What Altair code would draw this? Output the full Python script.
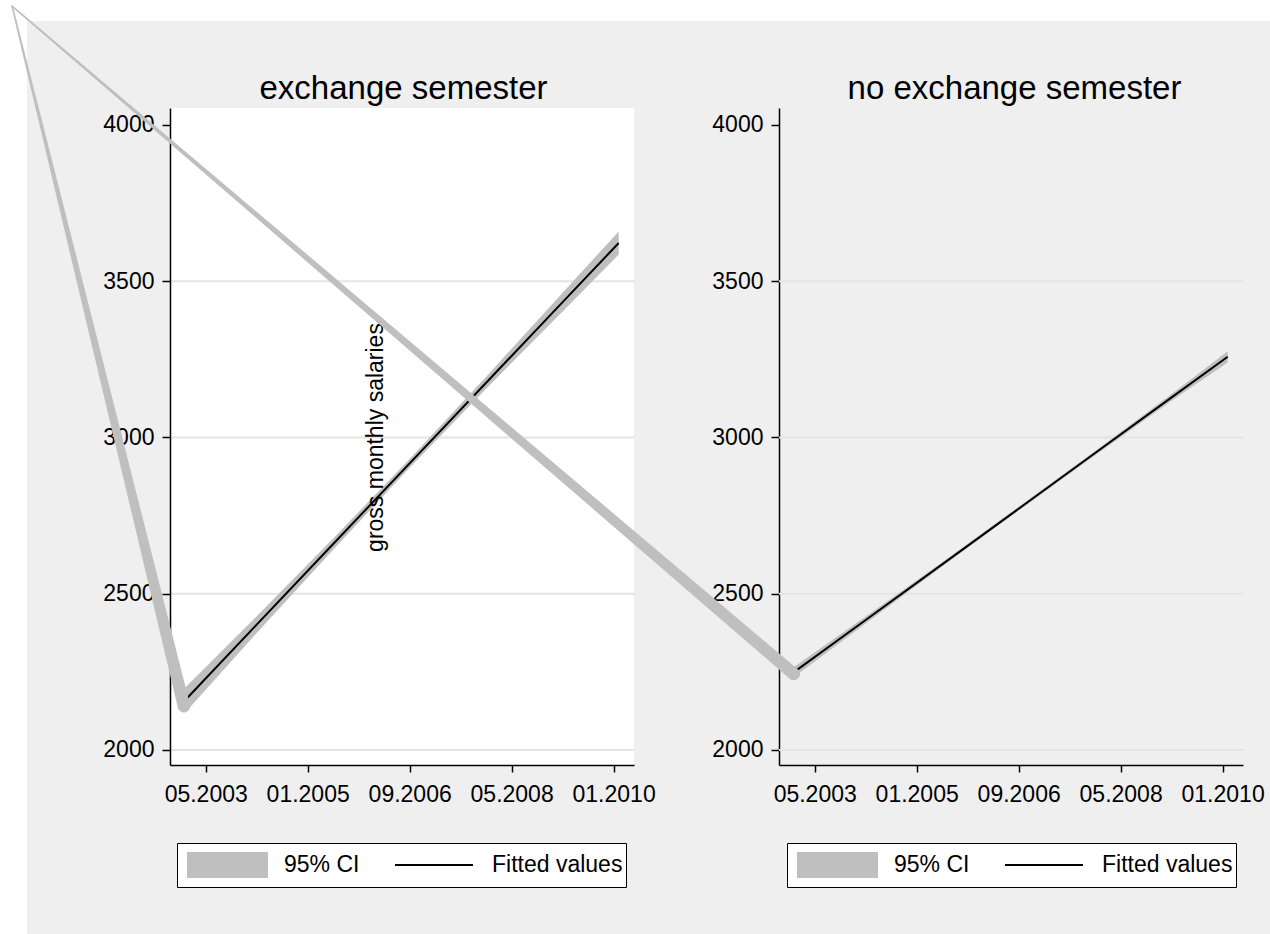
import altair as alt
import pandas as pd

# Stata monthly dates: months counted from 01.1960
months = [516, 530, 545, 560, 575, 590, 601]

# exchange semester: fitted gross salary and its 95% band
fit_exchange = [2160, 2401, 2659, 2917, 3175, 3433, 3622]
lo_exchange = [2120, 2374, 2641, 2903, 3156, 3403, 3585]
hi_exchange = [2200, 2428, 2677, 2931, 3194, 3463, 3659]

# no exchange semester
fit_no_exchange = [2250, 2416, 2594, 2772, 2950, 3128, 3258]
lo_no_exchange = [2234, 2405, 2587, 2766, 2943, 3117, 3240]
hi_no_exchange = [2266, 2427, 2601, 2778, 2957, 3139, 3276]

tick_months = [520, 540, 560, 580, 600]
salary_ticks = [2000, 2500, 3000, 3500, 4000]
grid_salaries = [2000, 2500, 3000, 3500]

legend_items = ["95% CI", "Fitted values"]
panel_titles = ["exchange semester", "no exchange semester"]
y_title = "gross monthly salaries"

# stray edges of the band polygon (right panel's data units)
stray_month = [362.6, 396.3, 362.6, 515.9]
stray_salary = [4380, 2140, 4380, 2243]
stray_edge = ["a", "a", "b", "b"]

FONT = "Liberation Sans"
BAND = "#bfbfbf"
BG = "#efefef"
W, H = 464, 657

month_label = ("(datum.value % 12 + 1 < 10 ? '0' : '') + (datum.value % 12 + 1)"
               " + '.' + (floor(datum.value / 12) + 1960)")

x_scale = alt.Scale(domain=[513, 604], nice=False, zero=False)
y_scale = alt.Scale(domain=[1952, 4054], nice=False, zero=False)

# legend keys: one unit = 19 px; the leading moves reserve the full key cell
KEY_SIZE = 1444
rect_path = "M-1,-1M-1,1M-0.632,-0.684H3.632V0.684H-0.632Z"
line_path = "M-1,-1M-1,1M-0.632,-0.0526H3.474V0.0526H-0.632Z"


def panel(fit, lo, hi, title, left, legend_x, title_x):
    z = 1 if left else 0
    bottom_ax = alt.Axis(values=tick_months, labelExpr=month_label, title=None,
                         tickSize=7, labelPadding=11, zindex=z)
    # panel heading carried by a bare top axis
    top_ax = alt.Axis(orient="top", values=[], labels=False, ticks=False, domain=False,
                      title=title, titleFontSize=33, titleFont=FONT, titleFontWeight="normal",
                      titleColor="black", titleBaseline="alphabetic", titleAlign="center",
                      titleX=title_x, titleY=-10, zindex=z)
    if left:
        yax = alt.Axis(values=salary_ticks, format="d", title=y_title, tickSize=8,
                       labelPadding=8, titleX=205, titleY=329, titleAngle=270,
                       titleAlign="center", titleBaseline="middle", titleFontSize=23,
                       titleFont=FONT, titleFontWeight="normal", titleColor="black", zindex=z)
    else:
        yax = alt.Axis(values=salary_ticks, format="d", title=None, tickSize=8,
                       labelPadding=8, zindex=z)

    df = pd.DataFrame({"month": months, "fit": fit, "lo": lo, "hi": hi})

    grid = alt.Chart(pd.DataFrame({"salary": grid_salaries})).mark_rule(
        color="#e4e4e4", strokeWidth=2
    ).encode(y=alt.Y("salary:Q", scale=y_scale, axis=yax))

    band = alt.Chart(df).mark_area(color=BAND, opacity=1).encode(
        x=alt.X("month:Q", scale=x_scale, axis=bottom_ax),
        y=alt.Y("lo:Q", scale=y_scale, axis=yax), y2="hi:Q",
    )
    line = alt.Chart(df).mark_line(color="black", strokeWidth=2).encode(
        x=alt.X("month:Q", scale=x_scale, axis=top_ax),
        y=alt.Y("fit:Q", scale=y_scale, axis=yax),
    )

    leg = alt.Legend(orient="none", legendX=legend_x, legendY=735, direction="horizontal",
                     title=None, strokeColor="black", fillColor="white", padding=3,
                     labelFontSize=23, labelFont=FONT, labelColor="black",
                     symbolSize=KEY_SIZE, symbolStrokeWidth=0, symbolOpacity=1,
                     labelOffset=66, columnPadding=28)
    key = alt.Chart(pd.DataFrame({"series": legend_items})).transform_filter(
        "false"
    ).mark_point(filled=True, size=KEY_SIZE, opacity=1).encode(
        color=alt.Color("series:N", scale=alt.Scale(domain=legend_items,
                                                    range=[BAND, "#000000"]), legend=leg),
        shape=alt.Shape("series:N", scale=alt.Scale(domain=legend_items,
                                                    range=[rect_path, line_path]), legend=leg),
    )

    layers = []
    if left:
        one = pd.DataFrame({"k": [0]})
        page = alt.Chart(one).mark_rect(color="white").encode(
            x=alt.value(-170), x2=alt.value(1100), y=alt.value(-108), y2=alt.value(826))
        region = alt.Chart(one).mark_rect(color=BG).encode(
            x=alt.value(-143), x2=alt.value(1100), y=alt.value(-87), y2=alt.value(826))
        plot = alt.Chart(one).mark_rect(color="white").encode(
            x=alt.value(0), x2=alt.value("width"), y=alt.value(0), y2=alt.value("height"))
        layers += [page, region, plot]
    layers += [grid, band, line]
    if not left:
        stray = pd.DataFrame({"month": stray_month, "salary": stray_salary,
                              "edge": stray_edge, "step": [0, 1, 0, 1]})
        stray["w"] = [1.6, 12.5, 1.6, 12.5]
        trail = alt.Chart(stray).mark_trail(color=BAND, clip=False).encode(
            x=alt.X("month:Q", scale=x_scale, axis=None),
            y=alt.Y("salary:Q", scale=y_scale, axis=yax),
            detail="edge:N", order="step:Q",
            size=alt.Size("w:Q", scale=None, legend=None),
        )
        layers.append(trail)
    layers.append(key)

    return alt.layer(*layers).resolve_axis(x="independent").properties(width=W, height=H)


left = panel(fit_exchange, lo_exchange, hi_exchange, panel_titles[0], True, 7, 233)
right = panel(fit_no_exchange, lo_no_exchange, hi_no_exchange, panel_titles[1], False, 8, 235)

chart = alt.hconcat(left, right, spacing=145, bounds="flush").resolve_scale(
    x="independent", y="independent", color="independent", shape="independent"
).properties(padding=0, background="white").configure_view(
    stroke=None, fill="white"
).configure_axis(
    grid=False, domainColor="black", domainWidth=1.5, tickColor="black", tickWidth=1.5,
    labelColor="black", labelFont=FONT, labelFontSize=23,
)

chart.save("out.html", embed_options={"renderer": "svg", "actions": False})
